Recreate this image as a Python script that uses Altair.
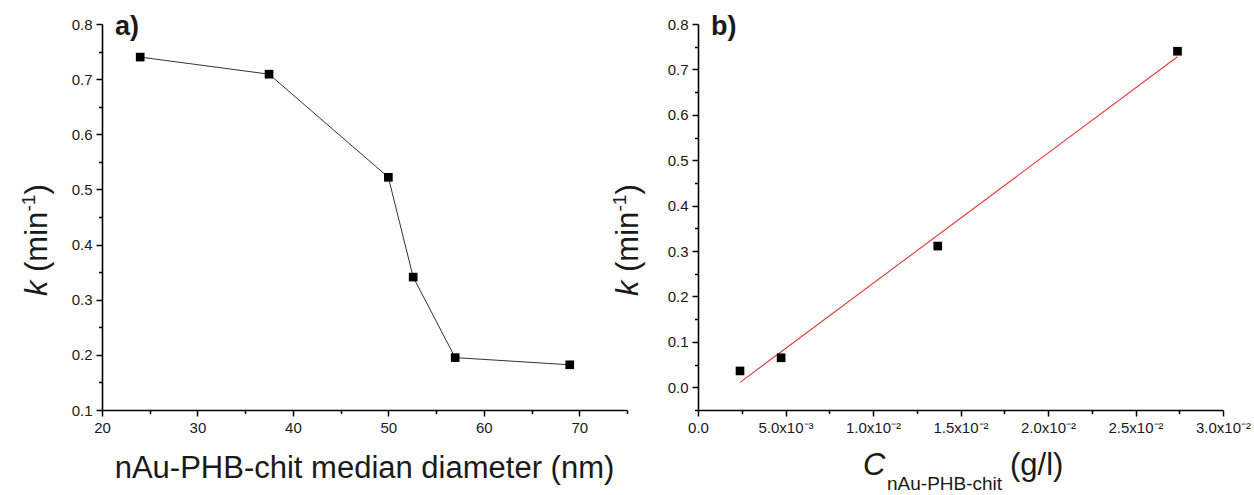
import altair as alt
import pandas as pd

# ---------------- data ----------------
diameter_nm = [24, 37.5, 50, 52.6, 57, 69]
k_a = [0.740, 0.709, 0.522, 0.341, 0.195, 0.182]

conc_gl = [0.0024, 0.00475, 0.0137, 0.0274]
k_b = [0.036, 0.065, 0.311, 0.740]

xa_ticks = [20, 25, 30, 35, 40, 45, 50, 55, 60, 65, 70, 75]
ya_ticks = [0.1, 0.15, 0.2, 0.25, 0.3, 0.35, 0.4, 0.45, 0.5, 0.55, 0.6, 0.65, 0.7, 0.75, 0.8]
xb_ticks = [0.0, 0.0025, 0.005, 0.0075, 0.01, 0.0125, 0.015, 0.0175, 0.02, 0.0225, 0.025, 0.0275, 0.03]
xb_major = [0.0, 0.005, 0.01, 0.015, 0.02, 0.025, 0.03]
xb_labels = ["0.0", "5.0x10\u207b\u00b3", "1.0x10\u207b\u00b2", "1.5x10\u207b\u00b2",
             "2.0x10\u207b\u00b2", "2.5x10\u207b\u00b2", "3.0x10\u207b\u00b2"]
yb_ticks = [-0.05, 0.0, 0.05, 0.1, 0.15, 0.2, 0.25, 0.3, 0.35, 0.4, 0.45, 0.5, 0.55, 0.6, 0.65, 0.7, 0.75, 0.8]

df_a = pd.DataFrame({"d": diameter_nm, "k": k_a})
df_b = pd.DataFrame({"c": conc_gl, "k": k_b})

FONT = "Liberation Sans"
W, H = 525, 386
TXT = "#1a1a1a"


def axis(values, minor_test, label_expr):
    return alt.Axis(
        title=None, grid=False, values=values,
        domainColor="black", domainWidth=1.6,
        tickColor="black", tickWidth=1.5,
        tickSize={"condition": {"test": minor_test, "value": 3.5}, "value": 6},
        labelFont=FONT, labelFontSize=15, labelColor=TXT, labelPadding=4,
        labelExpr=label_expr, labelFlush=False, labelOverlap=False, labelBound=False,
    )


def txt(s, x, y, size=31, style="normal", weight="normal", angle=0, align="left",
        baseline="alphabetic"):
    return alt.Chart(pd.DataFrame({"t": [s]})).mark_text(
        font=FONT, fontSize=size, fontStyle=style, fontWeight=weight, angle=angle,
        align=align, baseline=baseline, color=TXT,
    ).encode(x=alt.value(x), y=alt.value(y), text="t:N")


# ---------------- panel a ----------------
tenth_minor = "abs(round(datum.value*10) - datum.value*10) > 0.25"
xa_axis = axis(xa_ticks, "datum.value % 10 != 0",
               "datum.value % 10 != 0 ? '' : format(datum.value, 'd')")
ya_axis = axis(ya_ticks, tenth_minor,
               tenth_minor + " ? '' : format(datum.value, '.1f')")

base_a = alt.Chart(df_a).encode(
    x=alt.X("d:Q", scale=alt.Scale(domain=[20, 75], nice=False, zero=False), axis=xa_axis),
    y=alt.Y("k:Q", scale=alt.Scale(domain=[0.1, 0.8], nice=False, zero=False), axis=ya_axis),
)
line_a = base_a.mark_line(color="#333333", strokeWidth=1)
pts_a = base_a.mark_square(size=75, color="black", opacity=1)


def ytitle(x0, ymid):
    y0 = ymid + 56
    return [
        txt("k", x0, y0, style="italic", angle=270),
        txt("(min", x0, y0 - 24, angle=270),
        txt("-1", x0 - 12, y0 - 84.5, size=19, angle=270),
        txt(")", x0, y0 - 101.5, angle=270),
    ]


panel_a = alt.layer(
    line_a, pts_a,
    *ytitle(-55, 216),
    txt("nAu-PHB-chit median diameter (nm)", W / 2, 454, align="center"),
    txt("a)", 13, 11, size=27, weight="bold"),
).properties(width=W, height=H)

# ---------------- panel b ----------------
half_minor = "abs(round(datum.value*200) - datum.value*200) > 0.25"
lbl_b = half_minor + " ? '' : " + "".join(
    f"abs(datum.value - {v}) < 1e-6 ? '{s}' : " for v, s in zip(xb_major, xb_labels)
) + "''"
xb_axis = axis(xb_ticks, half_minor, lbl_b)
yb_axis = axis(yb_ticks, tenth_minor, tenth_minor + " ? '' : format(datum.value, '.1f')")

base_b = alt.Chart(df_b).encode(
    x=alt.X("c:Q", scale=alt.Scale(domain=[0, 0.03], nice=False, zero=False), axis=xb_axis),
    y=alt.Y("k:Q", scale=alt.Scale(domain=[-0.05, 0.8], nice=False, zero=False), axis=yb_axis),
)
fit_b = base_b.transform_regression("c", "k", method="linear").mark_line(
    color="#e0393b", strokeWidth=1.1)
pts_b = base_b.mark_square(size=75, color="black", opacity=1)

panel_b = alt.layer(
    fit_b, pts_b,
    *ytitle(-60, 216),
    txt("C", 165, 451, style="italic"),
    txt("nAu-PHB-chit", 189, 466, size=19),
    txt("(g/l)", 312, 451),
    txt("b)", 13, 11, size=27, weight="bold"),
).properties(width=W, height=H)

chart = alt.hconcat(panel_a, panel_b, spacing=71, bounds="flush").configure_view(
    stroke=None
).properties(
    padding={"left": 20, "top": 13, "right": 0, "bottom": 0},
    background="white",
)

chart.save("out.html", embed_options={"renderer": "svg", "actions": False})
